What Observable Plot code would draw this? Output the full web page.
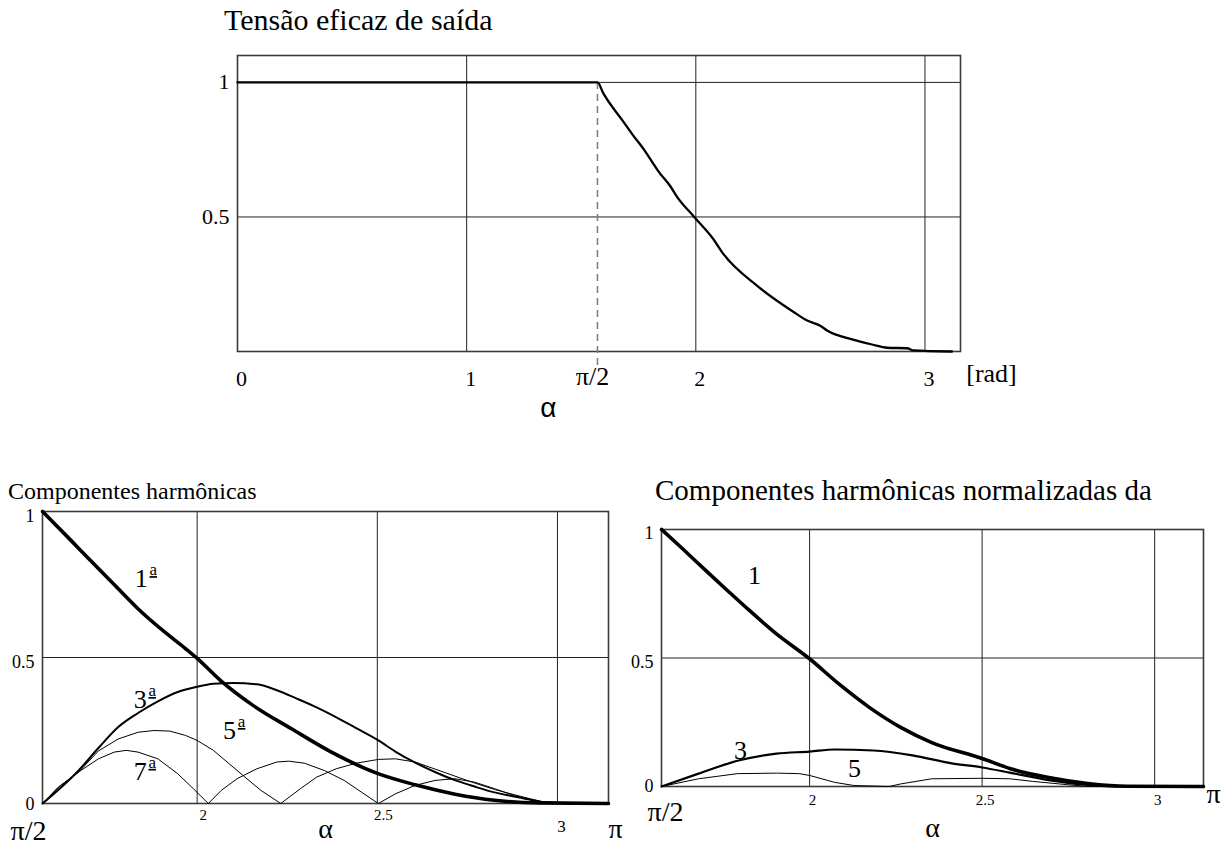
<!DOCTYPE html>
<html>
<head>
<meta charset="utf-8">
<script src="https://cdn.jsdelivr.net/npm/d3@7"></script>
<script src="https://cdn.jsdelivr.net/npm/@observablehq/plot@0.6"></script>
<style>
  html, body { margin: 0; padding: 0; background: #fff; }
  #page { position: relative; width: 1227px; height: 847px; overflow: hidden;
          font-family: "Liberation Serif", "Times New Roman", serif; color: #000; }
  .ttl { position: absolute; white-space: nowrap; line-height: 1; }
  .panel { position: absolute; }
  .panel svg { overflow: visible; }
</style>
</head>
<body>
<div id="page">
  <div class="ttl" style="left:224px; top:5px; font-size:30px">Tensão eficaz de saída</div>
  <div class="ttl" style="left:8px; top:479px; font-size:24px">Componentes harmônicas</div>
  <div class="ttl" style="left:655px; top:476px; font-size:29px">Componentes harmônicas normalizadas da</div>
  <div class="panel" id="top" style="left:0; top:40px"></div>
  <div class="panel" id="harm" style="left:0; top:470px"></div>
  <div class="panel" id="norm" style="left:640px; top:490px"></div>
</div>
<script>
// ---- Output RMS voltage vs firing angle alpha [rad] ----
const rmsAlpha = [0, 0.5, 1.0, 1.5, 1.571, 1.596, 1.683, 1.723, 1.779, 1.810, 1.836, 1.888, 1.919,
                  1.993, 2.076, 2.120, 2.268, 2.425, 2.486, 2.543, 2.573, 2.686, 2.769, 2.835,
                  2.922, 2.948, 3.118];
const rmsValue = [1, 1, 1, 1, 1, 0.96, 0.855, 0.807, 0.744, 0.704, 0.670, 0.615, 0.574,
                  0.5, 0.418, 0.363, 0.244, 0.148, 0.115, 0.096, 0.078, 0.044, 0.026, 0.014,
                  0.012, 0.004, 0];
const rmsXTicks = [0, 1, 2, 3];
const rmsYTicks = [0.5, 1];

// ---- Harmonic components (1st, 3rd, 5th, 7th) ----
const h1Alpha = [1.571, 1.649, 1.704, 1.771, 1.835, 1.913, 1.968, 2.0, 2.066, 2.155, 2.263, 2.374,
                 2.5, 2.605, 2.716, 2.825, 2.95, 3.1416];
const h1Value = [1, 0.902, 0.832, 0.748, 0.668, 0.584, 0.53, 0.497, 0.42, 0.336, 0.255, 0.175,
                 0.103, 0.064, 0.032, 0.011, 0.002, 0];
const h3Alpha = [1.571, 1.671, 1.726, 1.781, 1.836, 1.891, 1.946, 2.0, 2.045, 2.1, 2.166, 2.221,
                 2.275, 2.33, 2.385, 2.44, 2.503, 2.55, 2.605, 2.66, 2.715, 2.77, 2.825, 2.88,
                 2.935, 2.968, 3.1416];
const h3Value = [0, 0.113, 0.19, 0.262, 0.31, 0.35, 0.382, 0.40, 0.41, 0.413, 0.408, 0.388,
                 0.36, 0.33, 0.296, 0.259, 0.216, 0.178, 0.14, 0.108, 0.08, 0.058, 0.038, 0.024,
                 0.01, 0.003, 0];
const h5Alpha = [1.571, 1.615, 1.671, 1.726, 1.781, 1.836, 1.88, 1.924, 1.968, 2.0, 2.045, 2.089,
                 2.133, 2.177, 2.232, 2.287, 2.331, 2.386, 2.441, 2.503, 2.55, 2.605, 2.66, 2.715,
                 2.77, 2.825, 2.88, 2.935, 2.968, 3.1416];
const h5Value = [0, 0.056, 0.107, 0.18, 0.221, 0.244, 0.25, 0.248, 0.233, 0.216, 0.182, 0.136,
                 0.09, 0.045, 0, 0.051, 0.09, 0.119, 0.138, 0.151, 0.153, 0.142, 0.118, 0.094,
                 0.07, 0.048, 0.03, 0.013, 0.004, 0];
const h7Alpha = [1.571, 1.615, 1.671, 1.726, 1.770, 1.803, 1.836, 1.891, 1.946, 1.990, 2.031,
                 2.067, 2.111, 2.166, 2.221, 2.254, 2.298, 2.353, 2.408, 2.463, 2.503, 2.55,
                 2.605, 2.66, 2.715, 2.77, 2.825, 2.88, 2.935, 2.968, 3.1416];
const h7Value = [0, 0.056, 0.108, 0.153, 0.176, 0.182, 0.176, 0.153, 0.102, 0.05, 0,
                 0.045, 0.085, 0.119, 0.142, 0.145, 0.138, 0.113, 0.079, 0.033, 0, 0.033,
                 0.062, 0.079, 0.085, 0.073, 0.051, 0.027, 0.01, 0.004, 0];
// order labels: number followed by an underlined ordinal "a"
const harmLabels = [
  {alpha: 1.845, value: 0.77, text: "1"},
  {alpha: 1.842, value: 0.356, text: "3"},
  {alpha: 2.09, value: 0.25, text: "5"},
  {alpha: 1.842, value: 0.11, text: "7"}
];
const ordinalMark = "a";

// ---- Normalized harmonic components (1, 3, 5) ----
const n1Alpha = [1.571, 1.632, 1.701, 1.768, 1.823, 1.904, 2.0, 2.084, 2.174, 2.264, 2.354, 2.5,
                 2.58, 2.693, 2.806, 2.92, 3.1416];
const n1Value = [1, 0.925, 0.838, 0.755, 0.688, 0.594, 0.497, 0.4, 0.307, 0.23, 0.171, 0.109,
                 0.07, 0.035, 0.012, 0.001, 0];
const n3Alpha = [1.571, 1.678, 1.791, 1.904, 2.0, 2.073, 2.185, 2.298, 2.412, 2.5, 2.58, 2.693,
                 2.806, 2.9, 3.1416];
const n3Value = [0, 0.05, 0.1, 0.128, 0.136, 0.144, 0.14, 0.121, 0.09, 0.074, 0.054, 0.025,
                 0.006, 0, 0];
const n5Alpha = [1.571, 1.678, 1.791, 1.904, 1.97, 2.0, 2.073, 2.128, 2.23, 2.264, 2.354, 2.5,
                 2.58, 2.646, 2.747, 2.806, 3.1416];
const n5Value = [0, 0.03, 0.05, 0.052, 0.05, 0.043, 0.016, 0.004, 0, 0.01, 0.03, 0.032,
                 0.03, 0.02, 0.007, 0, 0];
const normLabels = [
  {alpha: 1.84, value: 0.82, text: "1"},
  {alpha: 1.80, value: 0.14, text: "3"},
  {alpha: 2.13, value: 0.07, text: "5"}
];
const harmXTicks = [2, 2.5, 3];
const harmYTicks = [0, 0.5, 1];

const zip = (xs, ys) => xs.map((x, i) => ({alpha: x, value: ys[i]}));
const PI = Math.PI;
const serif = "Liberation Serif";
const gridStyle = {stroke: "#222", strokeOpacity: 1, strokeWidth: 1};
const frameStyle = {stroke: "#3a3a3a", strokeWidth: 1.6};
const smooth = {curve: "monotone-x"};
const fmt = d => String(d);

// Output RMS voltage panel
document.getElementById("top").append(Plot.plot({
  width: 1100, height: 400,
  marginLeft: 237, marginRight: 140, marginTop: 15, marginBottom: 89,
  style: {fontFamily: serif, background: "transparent", color: "#000"},
  x: {domain: [0, 3.155], axis: null, label: null},
  y: {domain: [0, 1.1], axis: null, label: null},
  marks: [
    Plot.gridX([1, 2, 3], gridStyle),
    Plot.gridY(rmsYTicks, gridStyle),
    Plot.frame(frameStyle),
    Plot.ruleX([PI / 2], {y1: 1, y2: -0.056, stroke: "#808080", strokeWidth: 1.6, strokeDasharray: "7,5"}),
    Plot.line(zip(rmsAlpha, rmsValue), {x: "alpha", y: "value", stroke: "#000", strokeWidth: 2.3, ...smooth}),
    Plot.axisX(rmsXTicks, {label: null, tickSize: 0, tickPadding: 19, dx: 4, fontSize: 22, fontFamily: serif, tickFormat: fmt}),
    Plot.axisY(rmsYTicks, {label: null, tickSize: 0, tickPadding: 8, fontSize: 22, fontFamily: serif, tickFormat: fmt}),
    Plot.text(["π/2"], {x: PI / 2, frameAnchor: "bottom", dx: -5, dy: 33, fontSize: 26, fontFamily: serif}),
    Plot.text(["[rad]"], {frameAnchor: "bottom-right", textAnchor: "middle", dx: 31, dy: 30, fontSize: 26, fontFamily: serif}),
    Plot.text(["α"], {x: PI / 2, frameAnchor: "bottom", dx: -49, dy: 65, fontSize: 28, fontFamily: "Liberation Sans"})
  ]
}));

// Harmonic components panel
const harmPlot = Plot.plot({
  width: 640, height: 377,
  marginLeft: 42, marginRight: 32, marginTop: 41, marginBottom: 44,
  style: {fontFamily: serif, background: "transparent", color: "#000"},
  x: {domain: [PI / 2, PI], axis: null, label: null},
  y: {domain: [0, 1], axis: null, label: null},
  marks: [
    Plot.gridX(harmXTicks, gridStyle),
    Plot.gridY([0.5], gridStyle),
    Plot.frame(frameStyle),
    Plot.line(zip(h7Alpha, h7Value), {x: "alpha", y: "value", stroke: "#000", strokeWidth: 1}),
    Plot.line(zip(h5Alpha, h5Value), {x: "alpha", y: "value", stroke: "#000", strokeWidth: 1}),
    Plot.line(zip(h3Alpha, h3Value), {x: "alpha", y: "value", stroke: "#000", strokeWidth: 2, ...smooth}),
    Plot.line(zip(h1Alpha, h1Value), {x: "alpha", y: "value", stroke: "#000", strokeWidth: 3.6, ...smooth}),
    Plot.text(harmLabels, {x: "alpha", y: "value", text: "text", fontSize: 26, fontFamily: serif}),
    Plot.text(harmLabels, {x: "alpha", y: "value", text: () => ordinalMark, dx: 12, dy: -9, fontSize: 17,
                           fontFamily: serif}),
    Plot.axisX([2, 2.5], {label: null, tickSize: 0, tickPadding: 6, dx: 6, fontSize: 15, fontFamily: serif, tickFormat: fmt}),
    Plot.axisX([3], {label: null, tickSize: 0, tickPadding: 16, dx: 4, fontSize: 17, fontFamily: serif, tickFormat: fmt}),
    Plot.axisY(harmYTicks.slice(1), {label: null, tickSize: 0, tickPadding: 8, dy: 5, fontSize: 18, fontFamily: serif, tickFormat: fmt}),
    Plot.axisY(harmYTicks.slice(0, 1), {label: null, tickSize: 0, tickPadding: 8, dy: 1, fontSize: 18, fontFamily: serif, tickFormat: fmt}),
    Plot.text(["π/2"], {x: PI / 2, frameAnchor: "bottom", dx: -14, dy: 36, fontSize: 28, fontFamily: serif}),
    Plot.text(["π"], {x: PI, frameAnchor: "bottom", dx: 7, dy: 34, fontSize: 28, fontFamily: serif}),
    Plot.text(["α"], {frameAnchor: "bottom", dy: 34, fontSize: 28, fontFamily: serif})
  ]
});
// underline the ordinal indicators
d3.select(harmPlot).selectAll("text")
  .filter(function() { return this.textContent === ordinalMark; })
  .attr("text-decoration", "underline")
  .style("text-decoration", "underline");
document.getElementById("harm").append(harmPlot);

// Normalized harmonic components panel
document.getElementById("norm").append(Plot.plot({
  width: 587, height: 357,
  marginLeft: 21, marginRight: 24, marginTop: 39, marginBottom: 61,
  style: {fontFamily: serif, background: "transparent", color: "#000"},
  x: {domain: [PI / 2, PI], axis: null, label: null},
  y: {domain: [0, 1], axis: null, label: null},
  marks: [
    Plot.gridX(harmXTicks, gridStyle),
    Plot.gridY([0.5], gridStyle),
    Plot.frame(frameStyle),
    Plot.line(zip(n5Alpha, n5Value), {x: "alpha", y: "value", stroke: "#000", strokeWidth: 1}),
    Plot.line(zip(n3Alpha, n3Value), {x: "alpha", y: "value", stroke: "#000", strokeWidth: 2.2, ...smooth}),
    Plot.line(zip(n1Alpha, n1Value), {x: "alpha", y: "value", stroke: "#000", strokeWidth: 3.6, ...smooth}),
    Plot.text(normLabels, {x: "alpha", y: "value", text: "text", fontSize: 26, fontFamily: serif}),
    Plot.axisX(harmXTicks, {label: null, tickSize: 0, tickPadding: 8, dx: 3, fontSize: 15, fontFamily: serif, tickFormat: fmt}),
    Plot.axisY(harmYTicks.slice(1), {label: null, tickSize: 0, tickPadding: 8, dy: 4, fontSize: 18, fontFamily: serif, tickFormat: fmt}),
    Plot.axisY(harmYTicks.slice(0, 1), {label: null, tickSize: 0, tickPadding: 8, dy: 0, fontSize: 18, fontFamily: serif, tickFormat: fmt}),
    Plot.text(["π/2"], {x: PI / 2, frameAnchor: "bottom", dx: 4, dy: 34, fontSize: 28, fontFamily: serif}),
    Plot.text(["π"], {x: PI, frameAnchor: "bottom", dx: 10, dy: 16, fontSize: 28, fontFamily: serif}),
    Plot.text(["α"], {frameAnchor: "bottom", dy: 50, fontSize: 28, fontFamily: serif})
  ]
}));
</script>
</body>
</html>
